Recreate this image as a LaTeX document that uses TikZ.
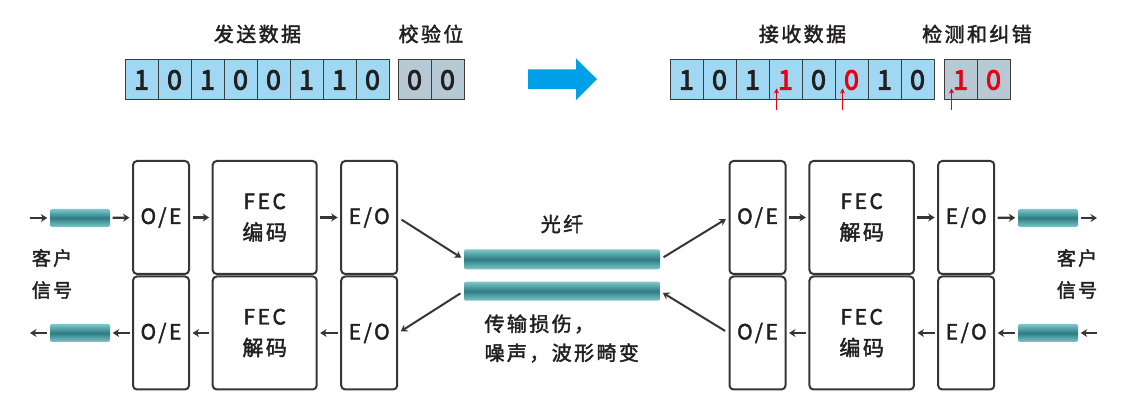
\documentclass[tikz,border=0pt]{standalone}
\usepackage{fontspec}
\setmainfont{Noto Sans CJK SC}[LetterSpace=12,FakeBold=2]
\newfontfamily\digitfont{Noto Sans CJK SC}[FakeBold=3]
\usetikzlibrary{arrows.meta}

\definecolor{ink}{HTML}{231F20}
\definecolor{err}{HTML}{E60012}
\definecolor{databg}{HTML}{A0D8F3}
\definecolor{chkbg}{HTML}{B6C9D4}
\definecolor{cellline}{HTML}{3C3C3C}
\definecolor{blkline}{HTML}{3A3535}
\definecolor{fibL}{HTML}{7CC8CE}
\definecolor{fibD}{HTML}{2E7B81}
\definecolor{flow}{HTML}{00A0E9}

\tikzset{
    bitcell/.style={draw=cellline, line width=1pt, fill=databg, minimum width=33pt, minimum height=40pt,
        inner sep=0pt, text=ink, font=\digitfont\fontsize{27}{27}\selectfont},
    chkcell/.style={bitcell, fill=chkbg},
    blk/.style={draw=blkline, line width=2pt, rounded corners=4pt, minimum height=113pt, inner sep=0pt,
        align=center, text=ink, font=\fontsize{21}{31}\selectfont},
    fiber/.style={rounded corners=2pt, top color=fibL, bottom color=fibL, middle color=fibD,
        minimum height=18pt, minimum width=60pt, inner sep=0pt},
    arr/.style={draw=ink!90, line width=2.2pt, -{Stealth[length=6.5pt,width=8pt]}, shorten >=2.5pt, shorten <=2.5pt},
    diag/.style={arr, line width=2pt, shorten >=3pt, shorten <=4pt},
    errarr/.style={draw=err, line width=1.3pt, -{Stealth[length=5pt,width=5pt]}},
    lbl/.style={text=ink, font=\fontsize{20}{29}\selectfont},
}

\begin{document}
\begin{tikzpicture}[x=1pt,y=-1pt]
    \fill[white] (0,0) rectangle (1125,403);
    \useasboundingbox (0,0) rectangle (1125,403);

    % bits
    \foreach \b [count=\i] in {1,0,1,0,0,1,1,0}
        \node[bitcell] (s\i) at ({125+33*(\i-0.5)},80) {\b};
    \foreach \b [count=\i] in {0,0}
        \node[chkcell] (p\i) at ({398+33*(\i-0.5)},80) {\b};
    \foreach \b/\c [count=\i] in {1/ink,0/ink,1/ink,1/err,0/ink,0/err,1/ink,0/ink}
        \node[bitcell, text=\c] (r\i) at ({670+33*(\i-0.5)},80) {\b};
    \foreach \b [count=\i] in {1,0}
        \node[chkcell, text=err] (q\i) at ({944+33*(\i-0.5)},80) {\b};
    \foreach \n in {r4,r6,q1}
        \draw[errarr] ([xshift=-9pt,yshift=-10pt]\n.south) -- ([xshift=-9pt,yshift=12pt]\n.south);

    \node[lbl] at (257.5,34) {发送数据};
    \node[lbl] at (431,34) {校验位};
    \node[lbl] at (802.5,34) {接收数据};
    \node[lbl] at (977,34) {检测和纠错};

    \fill[flow] (528,69.5) -- (576,69.5) -- (576,58.5) -- (597,79.2) -- (576,100) -- (576,89) -- (528,89) -- cycle;

    % left terminal
    \node[blk, minimum width=56pt] (oeA) at (161,217.5) {O/E};
    \node[blk, minimum width=104pt] (fecA) at (264.7,217.5) {FEC\\编码};
    \node[blk, minimum width=56pt] (eoA) at (369.2,217.5) {E/O};
    \node[blk, minimum width=56pt] (oeB) at (161,333) {O/E};
    \node[blk, minimum width=104pt] (fecB) at (264.7,333) {FEC\\解码};
    \node[blk, minimum width=56pt] (eoB) at (369.2,333) {E/O};

    % right terminal
    \node[blk, minimum width=56pt] (oeC) at (757.5,217.5) {O/E};
    \node[blk, minimum width=104.5pt] (fecC) at (861.7,217.5) {FEC\\解码};
    \node[blk, minimum width=56pt] (eoC) at (966.2,217.5) {E/O};
    \node[blk, minimum width=56pt] (oeD) at (757.5,333) {O/E};
    \node[blk, minimum width=104.5pt] (fecD) at (861.7,333) {FEC\\编码};
    \node[blk, minimum width=56pt] (eoD) at (966.2,333) {E/O};

    \node[fiber] (tubeA) at (80,218) {};
    \node[fiber] (tubeB) at (80,333) {};
    \node[fiber] (tubeC) at (1048,218) {};
    \node[fiber] (tubeD) at (1048,333) {};
    \node[fiber, minimum width=196pt, minimum height=20pt] (fibA) at (562,259.3) {};
    \node[fiber, minimum width=196pt, minimum height=19pt] (fibB) at (562,291.2) {};

    \coordinate (inL) at (30,218);
    \coordinate (outL) at (30,333);
    \coordinate (outR) at (1097,218);
    \coordinate (inR) at (1097,333);

    \node[lbl, align=center, font=\fontsize{19}{32}\selectfont] (cliL) at (52,274) {客户\\信号};
    \node[lbl, align=center, font=\fontsize{19}{32}\selectfont] (cliR) at (1077,274) {客户\\信号};
    \node[lbl] (fibT) at (562,224) {光纤};
    \node[lbl, anchor=west, align=left] (dmg) at (481,338.5) {传输损伤，\\噪声，波形畸变};

    \draw[arr, shorten <=0pt] (inL) -- (tubeA);
    \draw[arr] (tubeA) -- (oeA);
    \draw[arr] (oeA) -- (fecA);
    \draw[arr] (fecA) -- (eoA);
    \draw[arr] (eoB) -- (fecB);
    \draw[arr] (fecB) -- (oeB);
    \draw[arr] (oeB) -- (tubeB);
    \draw[arr, shorten >=0pt] (tubeB) -- (outL);

    \draw[arr] (oeC) -- (fecC);
    \draw[arr] (fecC) -- (eoC);
    \draw[arr] (eoC) -- (tubeC);
    \draw[arr, shorten >=0pt] (tubeC) -- (outR);
    \draw[arr, shorten <=0pt] (inR) -- (tubeD);
    \draw[arr] (tubeD) -- (eoD);
    \draw[arr] (eoD) -- (fecD);
    \draw[arr] (fecD) -- (oeD);

    \draw[diag] (eoA.east) -- (fibA.west);
    \draw[diag] (fibB.west) -- (eoB.east);
    \draw[diag] (fibA.east) -- (oeC.west);
    \draw[diag] (oeD.west) -- (fibB.east);
\end{tikzpicture}
\end{document}
